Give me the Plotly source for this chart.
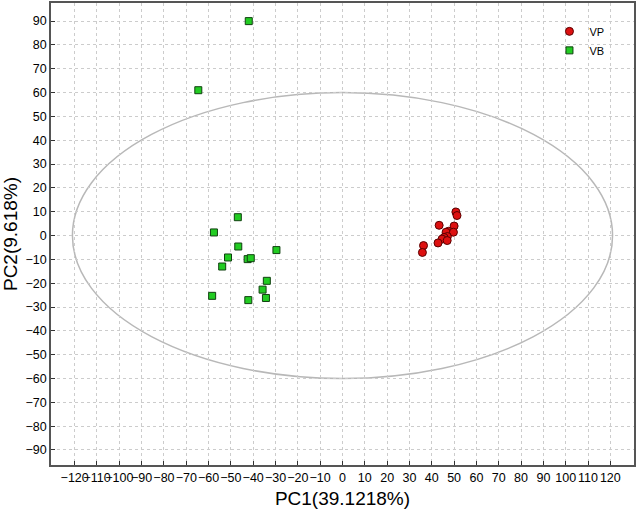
import plotly.graph_objects as go

# scores
vp_pc1 = [50.8, 51.3, 43.3, 50.0, 47.5, 46.4, 49.7, 47.0, 45.5, 44.6, 46.9, 42.8, 36.3, 35.8]
vp_pc2 = [9.9, 8.4, 4.3, 4.0, 1.8, 1.4, 1.4, -0.4, -0.8, -1.5, -2.1, -3.1, -4.2, -7.1]

vb_pc1 = [-46.9, -57.6, -46.7, -29.6, -51.3, -42.5, -41.1, -53.9, -33.9, -35.8, -58.4, -34.3, -42.2, -42.0, -64.6]
vb_pc2 = [7.7, 1.3, -4.6, -6.1, -9.2, -9.9, -9.5, -13.0, -19.0, -22.7, -25.3, -26.2, -27.1, 90.0, 61.0]

x_ticks = list(range(-120, 121, 10))
y_ticks = list(range(-90, 91, 10))

# Hotelling ellipse semi-axes
ell_a = 121
ell_b = 60

font = "Liberation Sans, Arial, Helvetica, sans-serif"

fig = go.Figure()

fig.add_trace(go.Scatter(
    x=vp_pc1, y=vp_pc2, mode="markers", name="VP",
    marker=dict(symbol="circle", size=8, color="#dd1111",
                line=dict(color="#5a0000", width=1)),
))
fig.add_trace(go.Scatter(
    x=vb_pc1, y=vb_pc2, mode="markers", name="VB",
    marker=dict(symbol="square", size=7, color="#22cc22",
                line=dict(color="#104010", width=1)),
))

fig.add_shape(type="circle", xref="x", yref="y",
              x0=-ell_a, x1=ell_a, y0=-ell_b, y1=ell_b,
              line=dict(color="#b8b8b8", width=1.5), layer="below")

axis_common = dict(
    ticks="inside", ticklen=4, tickcolor="#333333", tickangle=0,
    showgrid=True, gridcolor="#cccccc", griddash="dot", gridwidth=1,
    zeroline=False, showline=True, linecolor="#555555", linewidth=1.5,
    mirror=True, automargin=False,
    tickfont=dict(size=12.5, color="black", family=font),
)

fig.update_layout(
    width=638, height=514,
    margin=dict(l=51, r=4, t=3, b=49),
    plot_bgcolor="white", paper_bgcolor="white",
    font=dict(family=font, color="black"),
    xaxis=dict(range=[-130.6, 130.6], tickmode="array", tickvals=x_ticks,
               title=dict(text="PC1(39.1218%)", font=dict(size=19), standoff=8),
               **axis_common),
    yaxis=dict(range=[-96.3, 97.6], tickmode="array", tickvals=y_ticks,
               title=dict(text="PC2(9.618%)", font=dict(size=19), standoff=6),
               **axis_common),
    legend=dict(x=0.855, y=0.97, xanchor="left", yanchor="top",
                bgcolor="rgba(255,255,255,0)", font=dict(size=11),
                itemwidth=30, tracegroupgap=0),
    showlegend=True,
)

fig.write_html("out.html", config={"displayModeBar": False},
               post_script="document.body.style.margin='0';")
